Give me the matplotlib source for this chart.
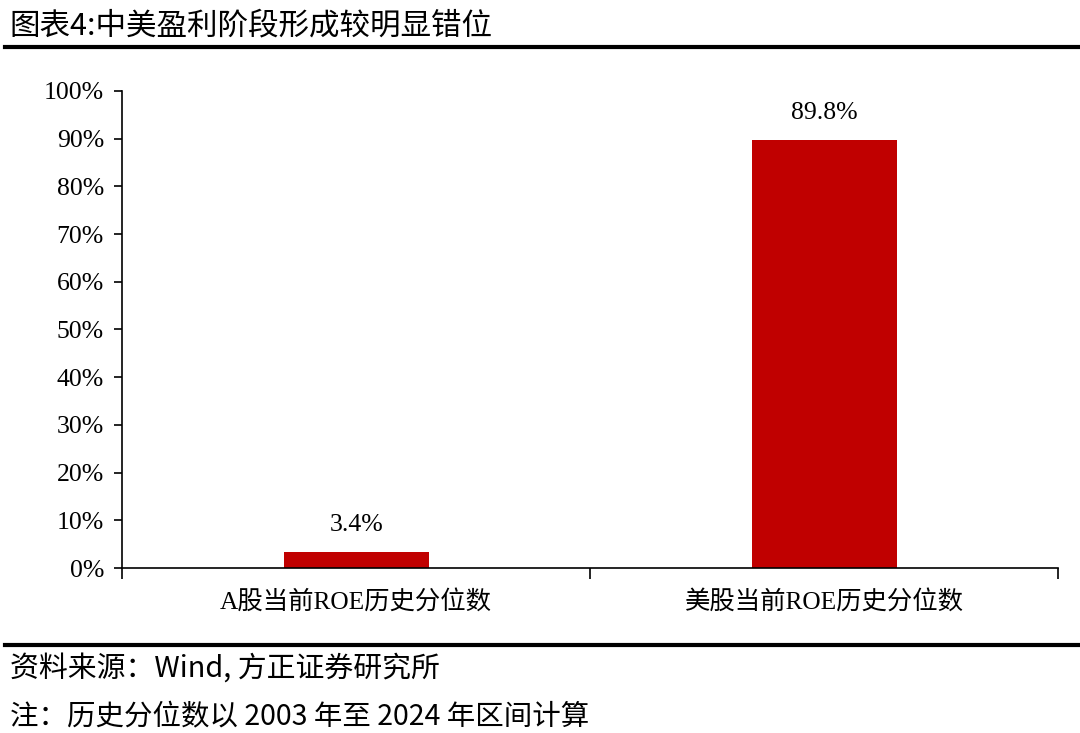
import matplotlib.pyplot as plt
from matplotlib.ticker import PercentFormatter, FixedLocator
from matplotlib.lines import Line2D

plt.rcParams['font.family'] = ['Liberation Serif', 'Noto Sans CJK SC']

# 数据
categories = ['A股当前ROE历史分位数', '美股当前ROE历史分位数']
values = [3.4, 89.8]
value_labels = ['3.4%', '89.8%']
title = '图表4:中美盈利阶段形成较明显错位'
source = '资料来源：Wind, 方正证券研究所'
note = '注：历史分位数以 2003 年至 2024 年区间计算'

fig = plt.figure(figsize=(10.8, 7.33), dpi=100)
ax = fig.add_axes([0.113, 0.225, 0.867, 0.651])

x = range(len(categories))
ax.bar(x, values, width=0.31, color='#C00000')
for i, (v, lab) in enumerate(zip(values, value_labels)):
    ax.text(i, v + 3.3, lab, ha='center', va='bottom', fontsize=18.5)

ax.set_xlim(-0.5, len(categories) - 0.5)
ax.set_ylim(0, 100)
ax.set_yticks(range(0, 101, 10))
ax.yaxis.set_major_formatter(PercentFormatter(decimals=0))
ax.xaxis.set_major_locator(FixedLocator([-0.5, 0.5, 1.5]))
ax.set_xticklabels([])
for i, c in enumerate(categories):
    ax.text(i, -4.5, c, ha='center', va='top', fontsize=18.3)

ax.tick_params(axis='y', direction='out', length=6, width=1.2, labelsize=18.5, pad=7)
ax.tick_params(axis='x', direction='out', length=8, width=1.2)
for s in ['top', 'right']:
    ax.spines[s].set_visible(False)
for s in ['left', 'bottom']:
    ax.spines[s].set_linewidth(1.2)

# 标题和脚注
cjk = ['Noto Sans CJK SC', 'DejaVu Sans']
fig.text(0.009, 0.965, title, fontsize=22, va='center', ha='left',
         family=cjk, weight='light')
fig.add_artist(Line2D([0.005, 1.0], [0.936, 0.936], color='black', lw=3))
fig.add_artist(Line2D([0.005, 1.0], [0.120, 0.120], color='black', lw=3))
fig.text(0.009, 0.088, source, fontsize=20.8, va='center', ha='left',
         family=cjk, weight='light', style='italic')
fig.text(0.009, 0.022, note, fontsize=20.5, va='center', ha='left',
         family=cjk, weight='light', style='italic')

fig.savefig('out.png', dpi=100)
